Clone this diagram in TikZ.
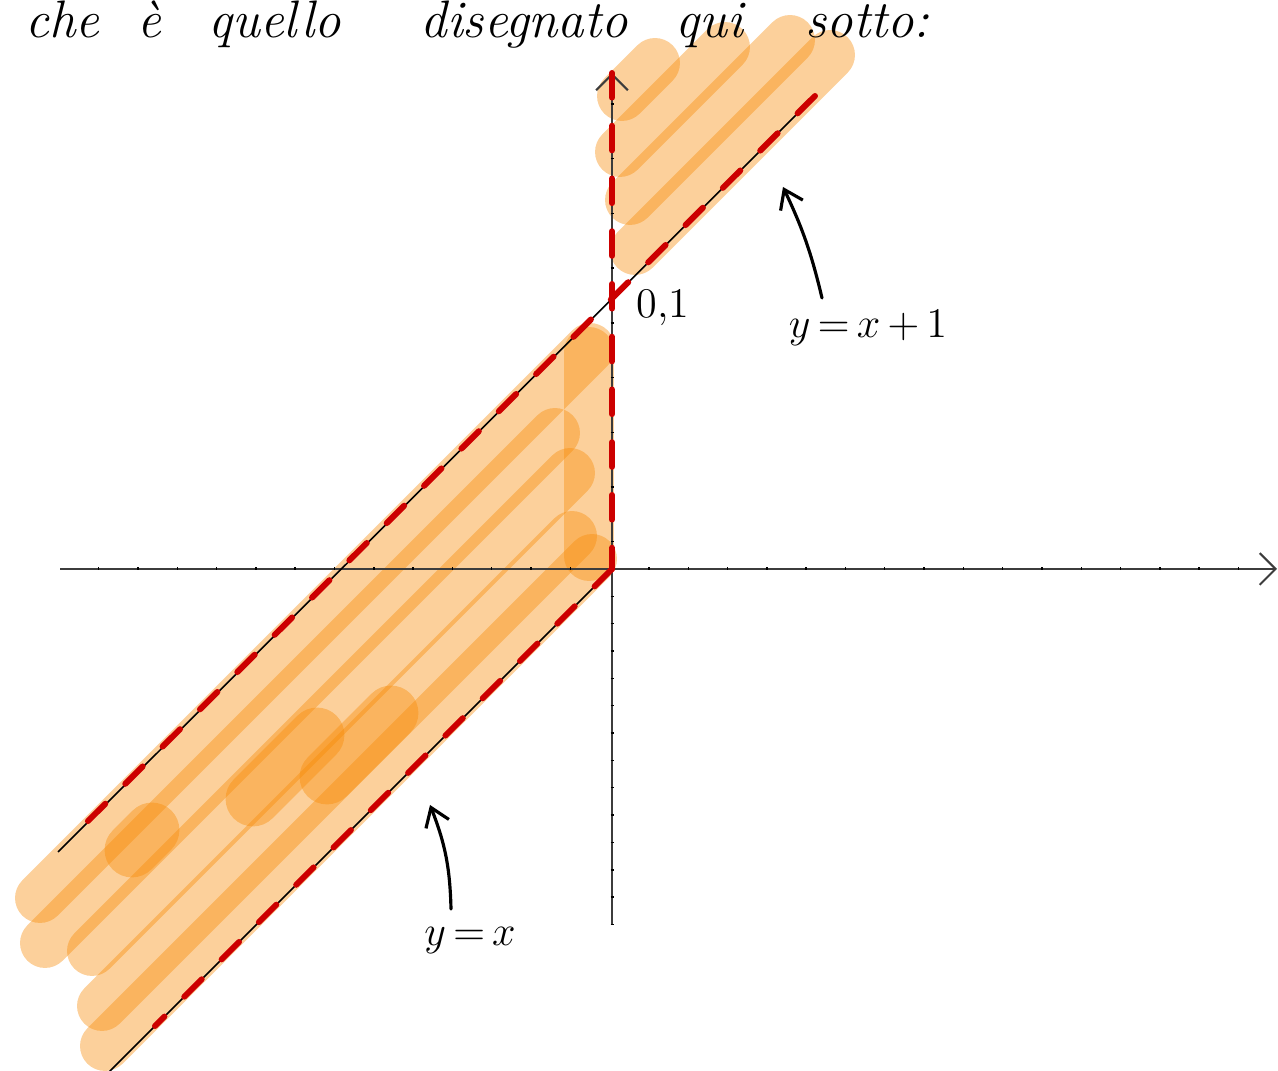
\documentclass[tikz,border=0pt]{standalone}
\usepackage{fontspec}
\usepackage{tikz}
\usetikzlibrary{arrows.meta, positioning}
\definecolor{hl-orange}{RGB}{247,138,5}
\definecolor{bound-red}{RGB}{204,0,0}
\definecolor{axis-grey}{RGB}{60,60,60}

\begin{document}
\begin{tikzpicture}[
  x=0.01cm, y=-0.01cm,
  hl/.style={line width=14.2pt, line cap=round, draw=hl-orange, draw opacity=0.4},
  hlwide/.style={hl, line width=15.6pt},
  bound/.style={draw=bound-red, line width=1.7pt, line cap=round, dash pattern=on 7pt off 8pt},
  graph/.style={draw=black, line width=0.45pt},
  axis/.style={draw=axis-grey, line width=0.6pt, -{Straight Barb[length=4.5pt, width=9pt]}},
  tick/.style={draw=black, line width=0.4pt},
  hand/.style={draw=black, line width=0.9pt, line cap=round, -{Straight Barb[length=5pt, width=7pt]}},
  word/.style={anchor=base west, inner sep=0pt, font=\fontsize{15}{18}\selectfont\itshape},
  lbl/.style={anchor=base, inner sep=0pt, font=\fontsize{12}{14}\selectfont},
]
  \useasboundingbox (0,0) rectangle (1278,1071);
  \clip (0,0) rectangle (1278,1071);

  % Highlighter, upper region
  \draw[hl] (635,250) -- (830,55);
  \draw[hl] (630,200) -- (790,40);
  \draw[hl] (620,152) -- (725,47);
  \draw[hl] (622,96) -- (655,63);

  % Highlighter, lower strip
  \draw[hl] (40,898) -- (590,348);
  \draw[hl] (45,943) -- (555,433);
  \draw[hl] (92,951) -- (570,473);
  \draw[hl] (102,1006) -- (572,536);
  \draw[hl] (105,1046) -- (592,559);
  \draw[hl] (589,352) -- (589,556);
  \draw[hlwide] (132,850) -- (152,830);
  \draw[hlwide] (253,799) -- (317,735);
  \draw[hlwide] (327,777) -- (391,713);

  % Points
  \coordinate (O) at (612,569);
  \coordinate (P) at (612,297);
  \coordinate (xstart) at (60,569);
  \coordinate (xend) at (1277,569);
  \coordinate (ystart) at (612,925);
  \coordinate (yend) at (612,73);
  \coordinate (upA) at (58,852);
  \coordinate (upB) at (815,96);
  \coordinate (loA) at (100,1081);
  \coordinate (redA) at (85,824);
  \coordinate (redB) at (155,1026);

  % Axes
  \draw[axis] (xstart) -- (xend);
  \draw[axis] (ystart) -- (yend);
  \foreach \k in {0,...,29}
    \draw[tick] ({98.7+39.3*\k},567.5) -- ++(0,3);
  \foreach \k in {-18,...,13}
    \draw[tick] (610.5,{569+27.35*\k}) -- ++(3,0);

  % Lines y=x+1 and y=x
  \draw[graph] (upA) -- (upB);
  \draw[graph] (O) -- (loA);

  % Dashed boundary
  \draw[bound] (yend) -- (O);
  \draw[bound] (upB) -- (redA);
  \draw[bound] (O) -- (redB);

  % Labels
  \node[lbl, anchor=base west] (lblpt) at (636,318) {0,1};
  \node[lbl] (lblup) at (868,338) {$y\,{=}\,x\,{+}\,1$};
  \node[lbl] (lbllow) at (470,946) {$y\,{=}\,x$};

  \coordinate (arrupS) at (822,298);
  \coordinate (arrupE) at (783,187);
  \coordinate (arrloS) at (451,909);
  \coordinate (arrloE) at (430,805);
  \draw[hand] (arrupS) to[bend right=6] (arrupE);
  \draw[hand] (arrloS) to[bend right=10] (arrloE);

  % Title
  \node[word] (che) at (25,38) {che};
  \node[word] (egrave) at (137,38) {è};
  \node[word] (quello) at (208,38) {quello};
  \node[word] (disegnato) at (420,38) {disegnato};
  \node[word] (qui) at (675,38) {qui};
  \node[word] (sotto) at (805,38) {sotto:};
\end{tikzpicture}
\end{document}
